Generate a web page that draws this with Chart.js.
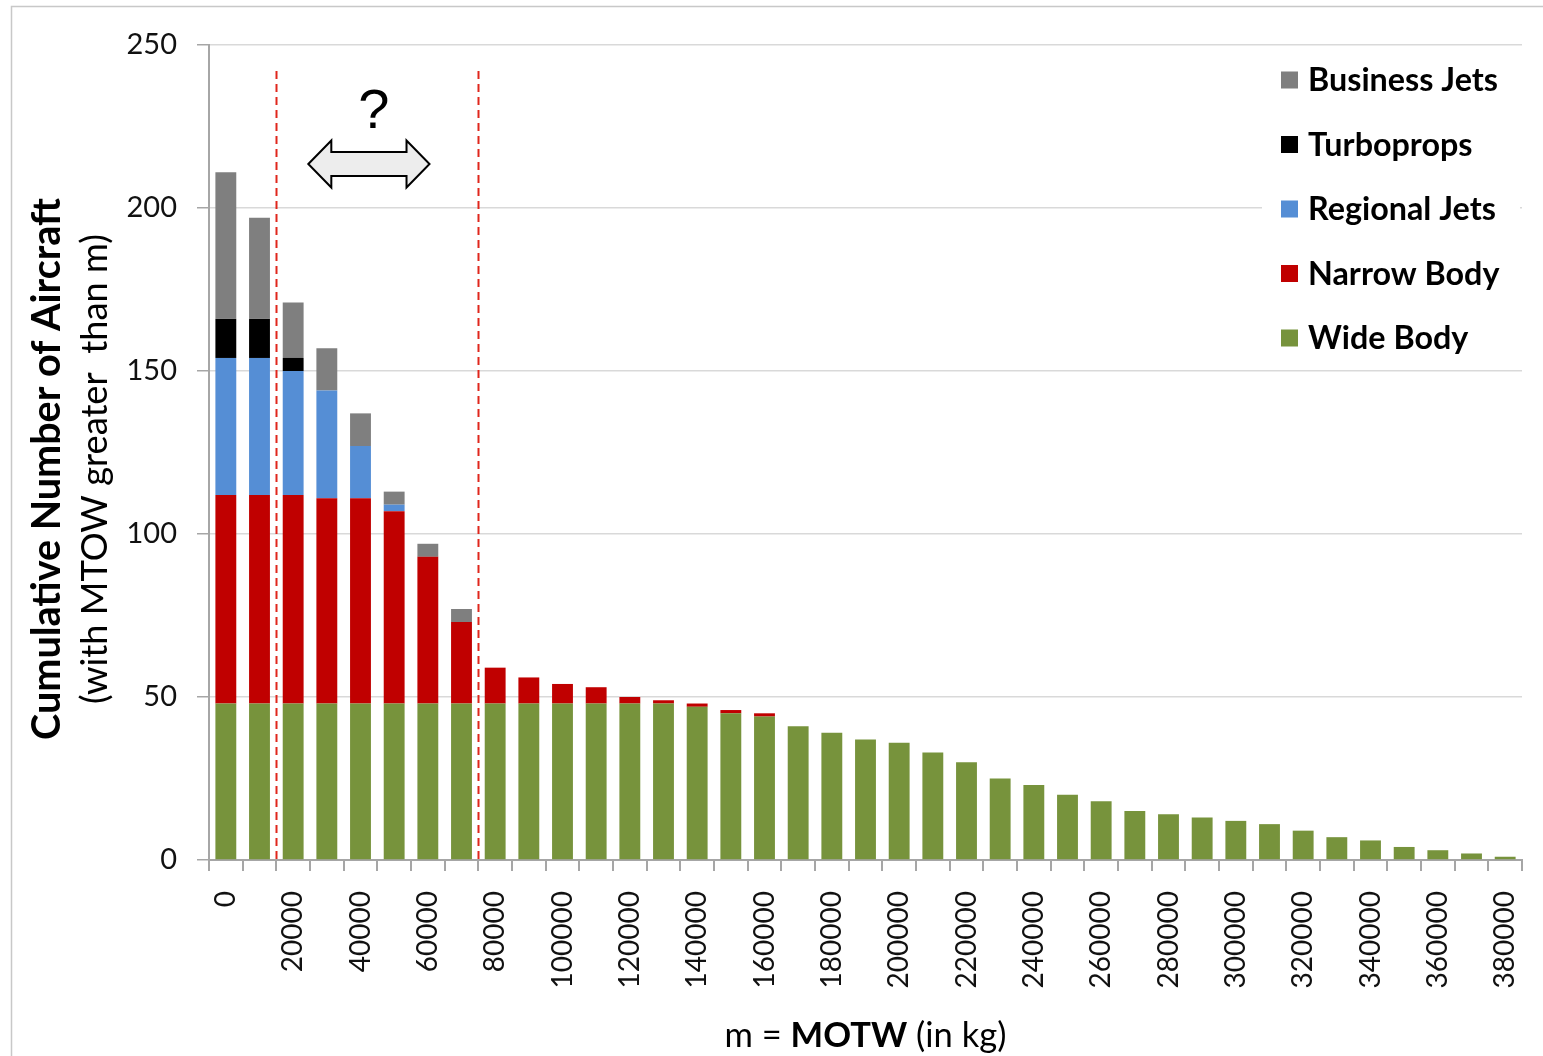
<!DOCTYPE html>
<html>
<head>
<meta charset="utf-8">
<title>Cumulative Number of Aircraft by MTOW</title>
<script src="https://cdn.jsdelivr.net/npm/chart.js@4.4.1/dist/chart.umd.min.js"></script>
<style>
  body { margin: 0; background: #fff; }
  canvas { display: block; }
</style>
</head>
<body>
<canvas id="theChart" width="1543" height="1056"></canvas>
<script>
const weights = [0, 10000, 20000, 30000, 40000, 50000, 60000, 70000, 80000, 90000,
  100000, 110000, 120000, 130000, 140000, 150000, 160000, 170000, 180000, 190000,
  200000, 210000, 220000, 230000, 240000, 250000, 260000, 270000, 280000, 290000,
  300000, 310000, 320000, 330000, 340000, 350000, 360000, 370000, 380000];

const wideBody = [48, 48, 48, 48, 48, 48, 48, 48, 48, 48, 48, 48, 48, 48, 47, 45, 44, 41, 39, 37,
  36, 33, 30, 25, 23, 20, 18, 15, 14, 13, 12, 11, 9, 7, 6, 4, 3, 2, 1];
const narrowBody = [64, 64, 64, 63, 63, 59, 45, 25, 11, 8, 6, 5, 2, 1, 1, 1, 1];
const regionalJets = [42, 42, 38, 33, 16, 2];
const turboprops = [12, 12, 4];
const businessJets = [45, 31, 17, 13, 10, 4, 4, 4];

const yTicks = [0, 50, 100, 150, 200, 250];

const seriesNames = ['Wide Body', 'Narrow Body', 'Regional Jets', 'Turboprops', 'Business Jets'];
const seriesColors = ['#77933c', '#c00000', '#558ed5', '#000000', '#7f7f7f'];
const seriesData = [wideBody, narrowBody, regionalJets, turboprops, businessJets];

// bars either side of each dashed limit
const rangeEdges = [[1, 2], [7, 8]];

Chart.defaults.font.family = 'Lato';

// pick a font size so the text spans the wanted width
function fitFont(ctx, text, weight, family, width) {
  ctx.font = weight + ' 100px ' + family;
  return 100 * width / ctx.measureText(text).width;
}

const frame = {
  id: 'frame',
  beforeDraw(chart) {
    const ctx = chart.ctx;
    ctx.save();
    ctx.fillStyle = '#fff';
    ctx.fillRect(0, 0, chart.width, chart.height);
    ctx.strokeStyle = '#c8c8c8';
    ctx.lineWidth = 1.5;
    ctx.beginPath();
    ctx.moveTo(chart.width, 6.5);
    ctx.lineTo(11.5, 6.5);
    ctx.lineTo(11.5, chart.height);
    ctx.stroke();
    ctx.restore();
  }
};

const extras = {
  id: 'extras',
  afterDraw(chart) {
    const ctx = chart.ctx;
    const x = chart.scales.x;
    const y = chart.scales.y;
    const area = chart.chartArea;
    ctx.save();

    // dashed limits of the range in question
    ctx.strokeStyle = '#e0261c';
    ctx.lineWidth = 2;
    ctx.setLineDash([8, 5]);
    rangeEdges.forEach(([a, b]) => {
      const px = Math.round((x.getPixelForValue(a) + x.getPixelForValue(b)) / 2) + 0.5;
      ctx.beginPath();
      ctx.moveTo(px, y.getPixelForValue(242));
      ctx.lineTo(px, area.bottom);
      ctx.stroke();
    });
    ctx.setLineDash([]);

    // double-headed block arrow
    const xl = x.getPixelForValue(2.45), xr = x.getPixelForValue(6.05);
    const cy = y.getPixelForValue(213.5);
    const head = 23, headH = 23.5, shaftH = 12;
    ctx.beginPath();
    ctx.moveTo(xl, cy);
    ctx.lineTo(xl + head, cy - headH);
    ctx.lineTo(xl + head, cy - shaftH);
    ctx.lineTo(xr - head, cy - shaftH);
    ctx.lineTo(xr - head, cy - headH);
    ctx.lineTo(xr, cy);
    ctx.lineTo(xr - head, cy + headH);
    ctx.lineTo(xr - head, cy + shaftH);
    ctx.lineTo(xl + head, cy + shaftH);
    ctx.lineTo(xl + head, cy + headH);
    ctx.closePath();
    ctx.fillStyle = '#ededed';
    ctx.fill();
    ctx.strokeStyle = '#000';
    ctx.lineWidth = 2;
    ctx.lineJoin = 'miter';
    ctx.stroke();

    ctx.fillStyle = '#000';
    ctx.font = '56px "Liberation Sans", Arial, sans-serif';
    ctx.textAlign = 'center';
    ctx.textBaseline = 'alphabetic';
    ctx.fillText('?', (xl + xr) / 2 + 5, 128);

    // legend, top entry is the top of the stack
    ctx.fillStyle = '#fff';
    ctx.fillRect(1262, 50, 258, 310);
    const legendSize = fitFont(ctx, 'Business Jets', 'bold', 'Lato', 190);
    ctx.font = 'bold ' + legendSize + 'px Lato';
    ctx.textAlign = 'left';
    ctx.textBaseline = 'middle';
    for (let i = 0; i < seriesNames.length; i++) {
      const k = seriesNames.length - 1 - i;
      const cyL = 80 + i * 64.5;
      ctx.fillStyle = seriesColors[k];
      ctx.fillRect(1281, cyL - 8.5, 17, 17);
      ctx.fillStyle = '#000';
      ctx.fillText(seriesNames[k], 1308, cyL + 1);
    }

    // y axis title, two lines
    const yMid = 469;
    ctx.save();
    ctx.translate(47, yMid);
    ctx.rotate(-Math.PI / 2);
    ctx.textAlign = 'center';
    ctx.textBaseline = 'middle';
    const t1 = 'Cumulative Number of Aircraft';
    ctx.font = 'bold ' + fitFont(ctx, t1, 'bold', 'Lato', 542) + 'px Lato';
    ctx.fillStyle = '#000';
    ctx.fillText(t1, 0, 0);
    const t2 = '(with MTOW greater  than m)';
    ctx.font = 'normal ' + fitFont(ctx, t2, 'normal', 'Lato', 470) + 'px Lato';
    ctx.fillText(t2, 0, 48);
    ctx.restore();

    // x axis title with the bold middle part
    const parts = [['m = ', 'normal'], ['MOTW', 'bold'], [' (in kg)', 'normal']];
    const base = 30;
    let total = 0;
    parts.forEach(p => { ctx.font = p[1] + ' ' + base + 'px Lato'; total += ctx.measureText(p[0]).width; });
    const sz = base * 282 / total;
    let px = (area.left + area.right) / 2 - 141;
    ctx.textAlign = 'left';
    ctx.textBaseline = 'alphabetic';
    parts.forEach(p => {
      ctx.font = p[1] + ' ' + sz + 'px Lato';
      ctx.fillText(p[0], px, 1047);
      px += ctx.measureText(p[0]).width;
    });

    ctx.restore();
  }
};

const chart = new Chart(document.getElementById('theChart').getContext('2d'), {
  type: 'bar',
  data: {
    labels: weights,
    datasets: seriesNames.map((name, i) => ({
      label: name,
      data: seriesData[i],
      backgroundColor: seriesColors[i],
      barPercentage: 0.62,
      categoryPercentage: 1
    }))
  },
  options: {
    responsive: false,
    animation: false,
    layout: { padding: { top: 45, right: 21, left: 0, bottom: 0 } },
    plugins: {
      legend: { display: false },
      tooltip: { enabled: false }
    },
    scales: {
      x: {
        stacked: true,
        border: { color: '#a6a6a6', width: 2 },
        grid: {
          offset: true,
          drawOnChartArea: false,
          color: '#a6a6a6',
          lineWidth: 2,
          tickLength: 11
        },
        ticks: {
          autoSkip: false,
          minRotation: 90,
          maxRotation: 90,
          padding: 20,
          color: '#111',
          font: { size: 28 },
          callback: function (v, i) { return i % 2 === 0 ? String(weights[i]) : ''; }
        },
        afterFit(scale) {
          scale.height = 196;
          scale.paddingLeft = 0;
          scale.paddingRight = 0;
        }
      },
      y: {
        stacked: true,
        min: 0,
        max: 250,
        border: { color: '#a6a6a6', width: 2 },
        grid: {
          color: '#d9d9d9',
          lineWidth: 1.5,
          tickColor: '#a6a6a6',
          tickLength: 12
        },
        afterBuildTicks(scale) { scale.ticks = yTicks.map(v => ({ value: v })); },
        ticks: {
          padding: 20,
          color: '#111',
          font: { size: 29 }
        },
        afterFit(scale) { scale.width = 209; }
      }
    }
  },
  plugins: [frame, extras]
});
</script>
</body>
</html>
